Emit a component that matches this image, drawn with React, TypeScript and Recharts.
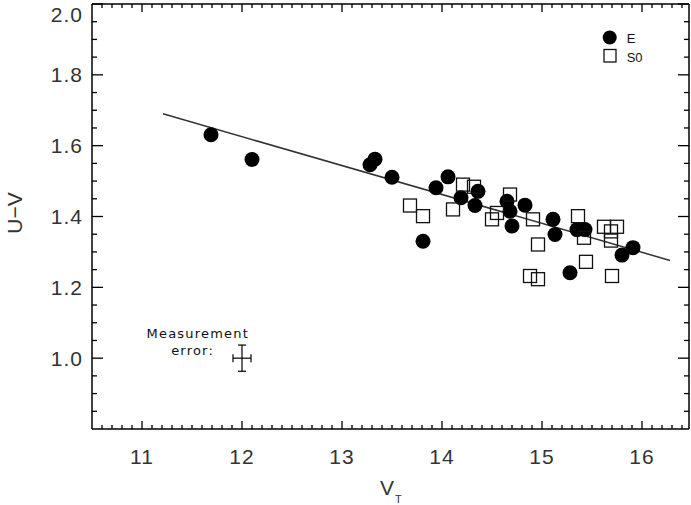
import React from 'react';
import { ScatterChart, Scatter, XAxis, YAxis, ReferenceLine, ErrorBar, Legend } from 'recharts';

// ---- Data ----
const seriesNames = ['E', 'S0'];

const eV = [11.69, 12.10, 13.28, 13.33, 13.50, 13.81, 13.94, 14.06, 14.19, 14.36, 14.33, 14.65, 14.68, 14.70, 14.83, 15.11, 15.13, 15.35, 15.43, 15.28, 15.80, 15.91];
const eUV = [1.631, 1.561, 1.546, 1.562, 1.511, 1.330, 1.481, 1.512, 1.453, 1.471, 1.431, 1.443, 1.415, 1.373, 1.432, 1.392, 1.349, 1.363, 1.363, 1.241, 1.291, 1.312];

const s0V = [13.68, 13.81, 14.11, 14.21, 14.32, 14.50, 14.55, 14.68, 14.91, 14.96, 14.88, 14.96, 15.36, 15.42, 15.44, 15.62, 15.75, 15.69, 15.69, 15.70];
const s0UV = [1.431, 1.401, 1.420, 1.490, 1.484, 1.392, 1.410, 1.462, 1.392, 1.321, 1.232, 1.223, 1.401, 1.340, 1.272, 1.371, 1.371, 1.358, 1.332, 1.232];

const fitStart = { x: 11.21, y: 1.690 };
const fitEnd = { x: 16.28, y: 1.276 };

const errPoint = { x: 12.0, y: 1.0, ex: 0.09, ey: 0.037 };
const errLabel = ['Measurement', 'error:'];

const xDomain = [10.5, 16.47];
const yDomain = [0.8, 2.0];
const xTicks = Array.from({ length: 59 }, (_, i) => (106 + i) / 10); // 10.6 .. 16.4
const yTicks = Array.from({ length: 24 }, (_, i) => (17 + i) / 20); // 0.85 .. 2.0

const xLabelMain = 'V';
const xLabelSub = 'T';
const yLabel = 'U\u2212V';

// ---- Data tables ----
const eData = eV.map((v, i) => ({ x: v, y: eUV[i] }));
const s0Data = s0V.map((v, i) => ({ x: v, y: s0UV[i] }));
const errData = [errPoint];

const FONT = '"Liberation Sans", Arial, Helvetica, sans-serif';
const LBL = '#333';

const isMajorX = (v: number) => Math.round(v * 10) % 10 === 0;
const isMajorY = (v: number) => Math.round(v * 20) % 4 === 0;

function BottomTick(props: any) {
  const { x, y, payload } = props;
  const v = payload.value;
  const maj = isMajorX(v);
  return (
    <g>
      <line x1={x} x2={x} y1={y} y2={y - (maj ? 8 : 4)} stroke="#000" strokeWidth={1.3} />
      {maj && (
        <text x={x} y={y + 35} textAnchor="middle" fontFamily={FONT} fontSize={21} fill={LBL} letterSpacing={1}>
          {Math.round(v)}
        </text>
      )}
    </g>
  );
}

function TopTick(props: any) {
  const { x, y, payload } = props;
  const maj = isMajorX(payload.value);
  return <line x1={x} x2={x} y1={y} y2={y + (maj ? 8 : 4)} stroke="#000" strokeWidth={1.3} />;
}

function LeftTick(props: any) {
  const { x, y, payload } = props;
  const v = payload.value;
  const maj = isMajorY(v);
  return (
    <g>
      <line x1={x} x2={x + (maj ? 11 : 5)} y1={y} y2={y} stroke="#000" strokeWidth={1.3} />
      {maj && (
        <text x={x - 9} y={Math.max(y + 7.5, 22)} textAnchor="end" fontFamily={FONT} fontSize={21} fill={LBL} letterSpacing={1}>
          {v.toFixed(1)}
        </text>
      )}
    </g>
  );
}

function RightTick(props: any) {
  const { x, y, payload } = props;
  const maj = isMajorY(payload.value);
  return <line x1={x} x2={x - (maj ? 11 : 5)} y1={y} y2={y} stroke="#000" strokeWidth={1.3} />;
}

const CircleShape = (props: any) => <circle cx={props.cx} cy={props.cy} r={7.5} fill="#000" />;
const SquareShape = (props: any) => (
  <rect x={props.cx - 6.5} y={props.cy - 6.5} width={13} height={13} fill="none" stroke="#111" strokeWidth={1.3} />
);
const NoShape = () => <g />;
const ErrShape = (props: any) => (
  <g>
    <text x={props.cx + 7} y={props.cy - 20} textAnchor="end" fontFamily='"DejaVu Sans", sans-serif' fontSize={13} fill="#111" letterSpacing={1.2}>
      {errLabel[0]}
    </text>
    <text x={props.cx - 28} y={props.cy - 3} textAnchor="end" fontFamily='"DejaVu Sans", sans-serif' fontSize={13} fill="#111" letterSpacing={1.2}>
      {errLabel[1]}
    </text>
  </g>
);

const LegendContent = () => (
  <svg width={80} height={45} style={{ display: 'block' }}>
    <circle cx={13.7} cy={11.5} r={7} fill="#000" />
    <text x={30.7} y={17.3} fontFamily={FONT} fontSize={13} fill="#111">{seriesNames[0]}</text>
    <rect x={8} y={23.5} width={12} height={12.5} fill="none" stroke="#111" strokeWidth={1.3} />
    <text x={30.7} y={35.7} fontFamily={FONT} fontSize={13} fill="#111">{seriesNames[1]}</text>
  </svg>
);

const XLabel = () => (
  <text x={380} y={495} fontFamily={FONT} fontSize={21} fill={LBL}>
    {xLabelMain}
    <tspan fontSize={11} dx={1} dy={8}>{xLabelSub}</tspan>
  </text>
);

const YLabel = () => (
  <text x={22} y={213} transform="rotate(-90, 22, 213)" textAnchor="middle" fontFamily={FONT} fontSize={21} fill={LBL}>
    {yLabel}
  </text>
);

export default function App() {
  return (
    <div style={{ position: 'absolute', left: 0, top: 0, background: '#fff' }}>
      <ScatterChart width={691} height={505} margin={{ top: 3, right: 1, left: 0, bottom: 0 }}>
        <XAxis
          xAxisId={0}
          type="number"
          dataKey="x"
          domain={xDomain}
          allowDataOverflow
          ticks={xTicks}
          interval={0}
          tickSize={0}
          tickMargin={0}
          tick={<BottomTick />}
          tickLine={false}
          height={76}
          axisLine={{ stroke: '#000', strokeWidth: 1.5 }}
          label={<XLabel />}
        />
        <XAxis
          xAxisId="top"
          orientation="top"
          type="number"
          dataKey="x"
          domain={xDomain}
          allowDataOverflow
          ticks={xTicks}
          interval={0}
          tickSize={0}
          tickMargin={0}
          tick={<TopTick />}
          tickLine={false}
          height={1}
          axisLine={{ stroke: '#000', strokeWidth: 1.5 }}
        />
        <YAxis
          yAxisId={0}
          type="number"
          dataKey="y"
          domain={yDomain}
          allowDataOverflow
          ticks={yTicks}
          interval={0}
          tickSize={0}
          tickMargin={0}
          tick={<LeftTick />}
          tickLine={false}
          width={92}
          axisLine={{ stroke: '#000', strokeWidth: 1.5 }}
          label={<YLabel />}
        />
        <YAxis
          yAxisId="right"
          orientation="right"
          type="number"
          dataKey="y"
          domain={yDomain}
          allowDataOverflow
          ticks={yTicks}
          interval={0}
          tickSize={0}
          tickMargin={0}
          tick={<RightTick />}
          tickLine={false}
          width={1}
          axisLine={{ stroke: '#000', strokeWidth: 1.5 }}
        />
        <ReferenceLine segment={[fitStart, fitEnd]} stroke="#333" strokeWidth={1.5} ifOverflow="visible" />
        <Scatter name={seriesNames[0]} data={eData} shape={CircleShape} isAnimationActive={false} />
        <Scatter name={seriesNames[1]} data={s0Data} shape={SquareShape} isAnimationActive={false} />
        <Scatter
          data={eData}
          xAxisId="top"
          yAxisId="right"
          shape={NoShape}
          isAnimationActive={false}
          legendType="none"
        />
        <Scatter data={errData} shape={ErrShape} isAnimationActive={false} legendType="none">
          <ErrorBar dataKey="ex" direction="x" width={4} stroke="#000" strokeWidth={1.2} isAnimationActive={false} />
          <ErrorBar dataKey="ey" direction="y" width={4} stroke="#000" strokeWidth={1.2} isAnimationActive={false} />
        </Scatter>
        <Legend
          layout="vertical"
          align="center"
          verticalAlign="middle"
          content={<LegendContent />}
          wrapperStyle={{ position: 'absolute', left: 596, top: 26, width: 80, height: 45 }}
        />
      </ScatterChart>
    </div>
  );
}
